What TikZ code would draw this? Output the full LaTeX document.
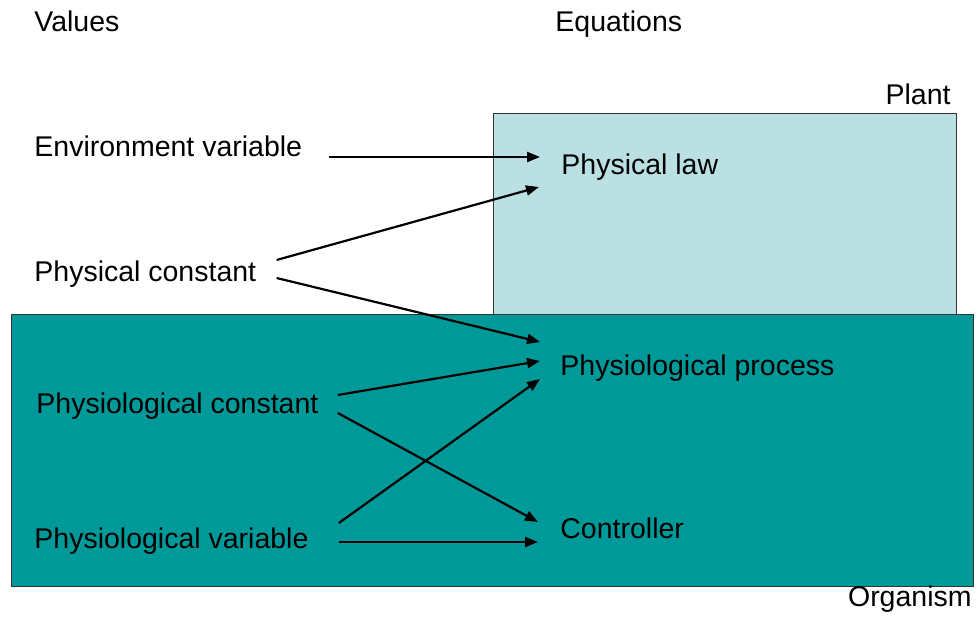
\documentclass[tikz,border=0pt]{standalone}
\usepackage{fontspec}
\setmainfont{Liberation Sans}
\usetikzlibrary{positioning, arrows.meta}

\definecolor{plantfill}{HTML}{BBE0E3}
\definecolor{organismfill}{HTML}{009999}

\begin{document}
\begin{tikzpicture}[x=0.5pt, y=-0.5pt]
	% ----- Styles -----
	\tikzset{
		label/.style={inner sep=0pt, font=\fontsize{14.25}{17}\selectfont},
		valuenode/.style={label, anchor=base west},
		eqnode/.style={label, anchor=base west},
		region/.style={draw=black!80, line width=0.5pt},
		arrow/.style={line width=1.1pt, -{Triangle[length=6.5pt, width=5pt]}}
	}
	\useasboundingbox (0,0) rectangle (979,630);

	% ----- Regions -----
	\filldraw[region, fill=plantfill]    (493,114) rectangle (956,315);
	\filldraw[region, fill=organismfill] (11,315)  rectangle (973,586);

	% ----- Headings -----
	\node (values)    [label, anchor=base west] at (34,32)   {Values};
	\node (equations) [label, anchor=base west] at (555,32)  {Equations};
	\node (plant)     [label, anchor=base east] at (951,105) {Plant};
	\node (organism)  [label, anchor=base east] at (972,606) {Organism};

	% ----- Nodes -----
	\node (envvar)  [valuenode] at (34,157) {Environment variable};
	\node (physcon) [valuenode] at (34,282) {Physical constant};
	\node (pcon)    [valuenode] at (36,413) {Physiological constant};
	\node (pvar)    [valuenode] at (34,548) {Physiological variable};

	\node (law)     [eqnode] at (561,175) {Physical law};
	\node (process) [eqnode] at (560,376) {Physiological process};
	\node (ctrl)    [eqnode] at (560,538) {Controller};

	% ----- Arrows -----
	\draw[arrow] ([shift={(26,0)}]envvar.base east)    -- ([shift={(-21,-18)}]law.base west);
	\draw[arrow] ([shift={(20,-22)}]physcon.base east) -- ([shift={(-22,12)}]law.base west);
	\draw[arrow] ([shift={(20,-4)}]physcon.base east)  -- ([shift={(-20,-34)}]process.base west);
	\draw[arrow] ([shift={(19,-18)}]pcon.base east)    -- ([shift={(-20,-15)}]process.base west);
	\draw[arrow] ([shift={(19,0)}]pcon.base east)      -- ([shift={(-22,-16)}]ctrl.base west);
	\draw[arrow] ([shift={(30,-25)}]pvar.base east)    -- ([shift={(-20,3)}]process.base west);
	\draw[arrow] ([shift={(30,-6)}]pvar.base east)     -- ([shift={(-22,4)}]ctrl.base west);
\end{tikzpicture}
\end{document}
